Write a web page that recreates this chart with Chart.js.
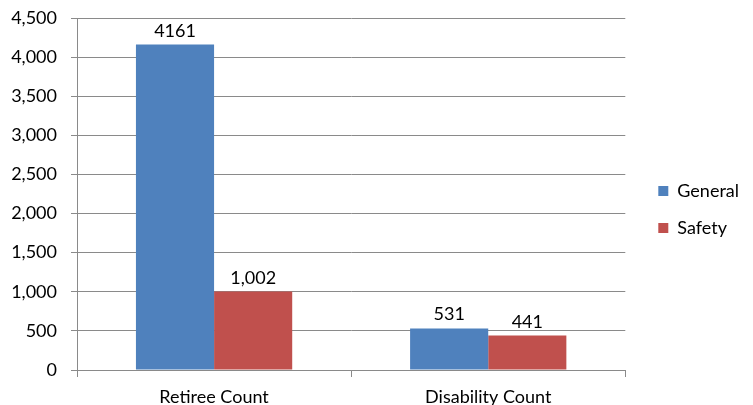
<!DOCTYPE html>
<html>
<head>
<meta charset="utf-8">
<script src="https://cdn.jsdelivr.net/npm/chart.js@4/dist/chart.umd.min.js"></script>
<style>
  html, body { margin: 0; padding: 0; background: #fff; }
  #wrap { width: 753px; height: 405px; }
</style>
</head>
<body>
<div id="wrap"><canvas id="pensionChart" width="753" height="405"></canvas></div>
<script>
// Retiree / disability counts by plan
var categorias = ['Retiree Count', 'Disability Count'];
var datosGeneral = [4161, 531];
var datosSafety = [1002, 441];
var ticksY = [0, 500, 1000, 1500, 2000, 2500, 3000, 3500, 4000, 4500];

var fuente = 'Lato, "Open Sans", sans-serif';
var gris = '#8a8a8a';

// etiquetas de valor encima de cada barra (la primera sin separador de miles)
var etiquetasGeneral = [String(datosGeneral[0]), datosGeneral[1].toLocaleString('en-US')];
var etiquetasSafety = datosSafety.map(function (v) { return v.toLocaleString('en-US'); });

var etiquetasBarras = {
    id: 'etiquetasBarras',
    afterDatasetsDraw: function (chart) {
        var ctx = chart.ctx;
        var textos = [etiquetasGeneral, etiquetasSafety];
        ctx.save();
        ctx.font = '18px ' + fuente;
        ctx.fillStyle = '#000';
        ctx.textAlign = 'center';
        ctx.textBaseline = 'alphabetic';
        chart.data.datasets.forEach(function (ds, i) {
            chart.getDatasetMeta(i).data.forEach(function (bar, j) {
                ctx.fillText(textos[i][j], bar.x, bar.y - 8);
            });
        });
        ctx.restore();
    }
};

// separa un poco la leyenda del area del grafico
var moverLeyenda = {
    id: 'moverLeyenda',
    afterLayout: function (chart) {
        var dx = chart.chartArea.right + 33 - 19 - chart.legend.left;
        chart.legend.left += dx;
        chart.legend.right += dx;
        chart.legend.top -= 2;
        chart.legend.bottom -= 2;
    }
};

var config = {
    type: 'bar',
    data: {
        labels: categorias,
        datasets: [{
            label: 'General',
            backgroundColor: '#4F81BD',
            data: datosGeneral,
            categoryPercentage: 0.57,
            barPercentage: 1.0
        }, {
            label: 'Safety',
            backgroundColor: '#C0504D',
            data: datosSafety,
            categoryPercentage: 0.57,
            barPercentage: 1.0
        }]
    },
    options: {
        responsive: false,
        animation: false,
        layout: { padding: { top: 18, left: 0, right: 18, bottom: 0 } },
        plugins: {
            legend: {
                position: 'right',
                labels: {
                    font: { family: fuente, size: 18 },
                    color: '#000',
                    boxWidth: 10,
                    boxHeight: 10,
                    padding: 19
                }
            },
            tooltip: { enabled: false }
        },
        scales: {
            x: {
                grid: { drawOnChartArea: false, color: gris, tickLength: 7, offset: true },
                border: { color: gris, width: 1 },
                ticks: { font: { family: fuente, size: 18 }, color: '#000', padding: 9 },
                afterFit: function (scale) { scale.height = 35; }
            },
            y: {
                min: 0,
                max: 4500,
                afterBuildTicks: function (scale) {
                    scale.ticks = ticksY.map(function (v) { return { value: v }; });
                },
                grid: { color: gris, tickLength: 6 },
                border: { color: gris, width: 1 },
                ticks: {
                    font: { family: fuente, size: 18 },
                    color: '#000',
                    padding: 14,
                    callback: function (v) { return v.toLocaleString('en-US'); }
                },
                afterFit: function (scale) {
                    scale.width = 77;
                    scale.paddingTop = 0;
                    scale.paddingBottom = 0;
                }
            }
        }
    },
    plugins: [etiquetasBarras, moverLeyenda]
};

var ctxPension = document.getElementById('pensionChart').getContext('2d');
var pensionChart = new Chart(ctxPension, config);
</script>
</body>
</html>
